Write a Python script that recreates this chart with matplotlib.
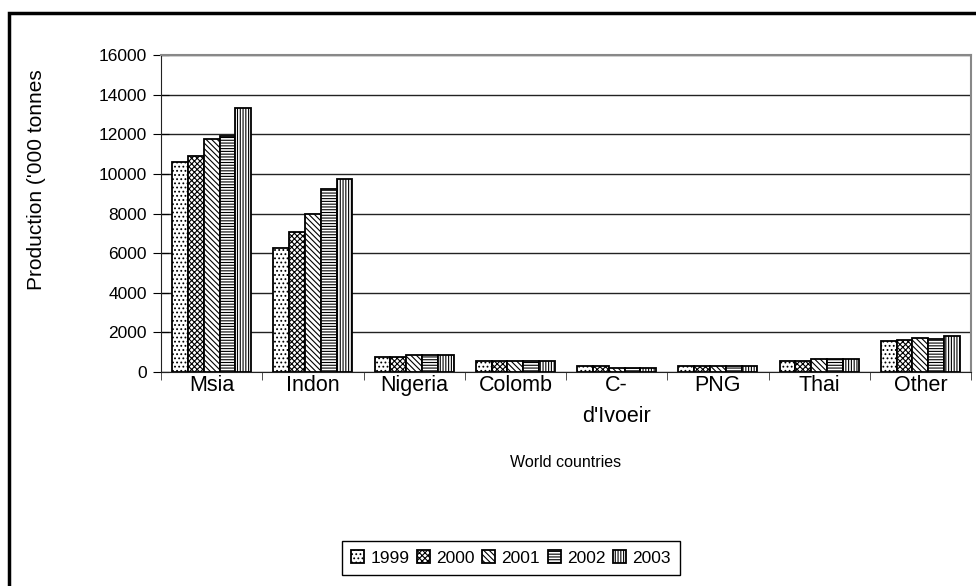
import numpy as np
import matplotlib.pyplot as plt
from matplotlib.patches import Rectangle

plt.rcParams['font.family'] = ['Liberation Sans', 'DejaVu Sans']
plt.rcParams['hatch.linewidth'] = 0.8

### Donnees
countries = ['Msia', 'Indon', 'Nigeria', 'Colomb', "C-\nd'Ivoeir", 'PNG', 'Thai', 'Other']
years = ['1999', '2000', '2001', '2002', '2003']
p1999 = [10580, 6270, 740, 540, 290, 300, 540, 1580]
p2000 = [10890, 7090, 740, 530, 280, 290, 540, 1590]
p2001 = [11770, 7980, 880, 530, 200, 290, 640, 1700]
p2002 = [11890, 9260, 860, 530, 200, 300, 640, 1680]
p2003 = [13330, 9760, 860, 530, 200, 300, 640, 1820]
series = [p1999, p2000, p2001, p2002, p2003]
hatches = ['....', 'xxxxxx', '\\\\\\\\\\\\', '------', '||||||']

fig = plt.figure(figsize=(9.76, 5.86), dpi=100)
ax = fig.add_axes([161/976, 1-372/586, (971-161)/976, (372-55)/586])

x = np.arange(len(countries))
w = 0.156
for k, vals in enumerate(series):
    ax.bar(x + (k-2)*w, vals, width=w, facecolor='white', edgecolor='black',
           hatch=hatches[k], linewidth=1.3, label=years[k], zorder=3)

ax.set_xlim(-0.5, len(countries)-0.5)
ax.set_ylim(0, 16000)
ax.set_yticks(np.arange(0, 16001, 2000))
ax.yaxis.grid(True, color='#222222', linewidth=1, zorder=0)
ax.set_xticks(x)
ax.set_xticklabels(countries, fontsize=15.5, linespacing=1.65, va='top')
ax.set_xticks(np.arange(-0.5, len(countries)), minor=True)
ax.tick_params(axis='x', which='major', length=0, pad=2)
ax.tick_params(axis='x', which='minor', length=6, direction='out', color='#333333')
ax.tick_params(axis='y', labelsize=12.5, direction='inout', length=12, pad=4)
for s in ['top', 'right']:
    ax.spines[s].set_color('#888888')
    ax.spines[s].set_linewidth(1.5)
ax.spines['left'].set_color('#222222')
ax.spines['bottom'].set_color('#222222')

ax.set_ylabel("Production ('000 tonnes", fontsize=15)
ax.yaxis.set_label_coords((46-161)/810, (372-180)/317)
ax.set_xlabel('World countries', fontsize=11.5, labelpad=20)

leg = fig.legend(loc='center', bbox_to_anchor=(511/976, 1-558/586), ncol=5,
                 fontsize=12.5, handlelength=0.75, handleheight=0.75,
                 handletextpad=0.35, columnspacing=0.45, borderpad=0.55,
                 fancybox=False, framealpha=1, edgecolor='black')
leg.get_frame().set_linewidth(1)

# cadre exterieur
fig.patches.append(Rectangle((9/976, -0.1), 1.0, 1-13/586+0.1, transform=fig.transFigure,
                             fill=False, edgecolor='black', linewidth=2.5))

fig.savefig('out.png', dpi=100)
